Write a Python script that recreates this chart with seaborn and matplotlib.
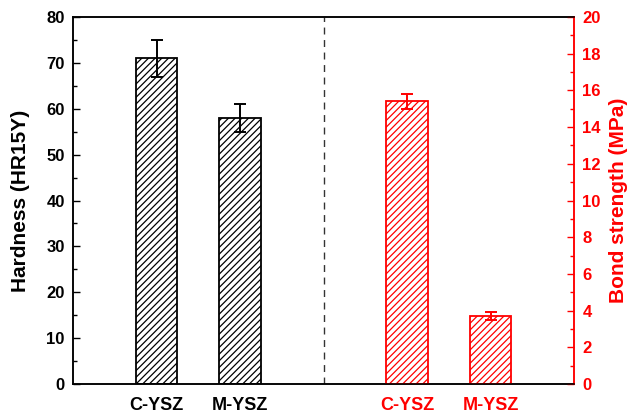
import matplotlib
matplotlib.use("Agg")
import matplotlib.pyplot as plt
import seaborn as sns
import pandas as pd
from matplotlib.ticker import MultipleLocator

sns.set_theme(style="ticks")
plt.rcParams['font.family'] = ['Liberation Sans', 'DejaVu Sans']
plt.rcParams['font.weight'] = 'bold'
plt.rcParams['hatch.linewidth'] = 0.9

categories = ["C-YSZ", "M-YSZ"]
hardness = [71, 58]
hardness_err = [4, 3]
bond = [15.4, 3.7]
bond_err = [0.4, 0.2]
pos_hard = [1, 2]
pos_bond = [4, 5]

df_h = pd.DataFrame({"pos": pos_hard, "val": hardness, "cat": categories})
df_b = pd.DataFrame({"pos": pos_bond, "val": bond, "cat": categories})

fig = plt.figure(figsize=(6.31, 4.18), dpi=100)
ax = fig.add_axes([0.1157, 0.0813, 0.794, 0.878])
ax2 = ax.twinx()

sns.barplot(data=df_h, x="pos", y="val", native_scale=True, width=0.5,
            color="white", edgecolor="black", linewidth=1.3, ax=ax, errorbar=None)
for p in ax.patches:
    p.set_hatch("/////")
    p.set_edgecolor("black")
    p.set_facecolor("white")
ax.errorbar(pos_hard, hardness, yerr=hardness_err, fmt="none", ecolor="black",
            elinewidth=1.4, capsize=4.5, capthick=1.4, zorder=5)

sns.barplot(data=df_b, x="pos", y="val", native_scale=True, width=0.5,
            color="white", edgecolor="red", linewidth=1.3, ax=ax2, errorbar=None)
for p in ax2.patches:
    p.set_hatch("/////")
    p.set_edgecolor("red")
    p.set_facecolor("white")
ax2.errorbar(pos_bond, bond, yerr=bond_err, fmt="none", ecolor="red",
             elinewidth=1.4, capsize=4.5, capthick=1.4, zorder=5)

ax.axvline(3, color="#333333", linestyle=(0, (5, 4)), linewidth=1.0)

ax.set_xlim(0, 6)
ax.set_ylim(0, 80)
ax2.set_ylim(0, 20)
ax.set_xticks(pos_hard + pos_bond)
ax.set_xticklabels(categories + categories, fontsize=13, fontweight="bold")
for i, t in enumerate(ax.get_xticklabels()):
    t.set_color("black" if i < 2 else "red")
ax.tick_params(axis="x", length=0, pad=9)

ax.yaxis.set_major_locator(MultipleLocator(10))
ax.yaxis.set_minor_locator(MultipleLocator(5))
ax.tick_params(axis="y", which="both", direction="in", labelsize=12, colors="black", width=1.0, pad=6)
ax.tick_params(axis="y", which="major", length=5)
ax.tick_params(axis="y", which="minor", length=3)

ax2.yaxis.set_major_locator(MultipleLocator(2))
ax2.yaxis.set_minor_locator(MultipleLocator(1))
ax2.tick_params(axis="y", which="both", direction="in", labelsize=12, colors="red", width=1.0, pad=6)
ax2.tick_params(axis="y", which="major", length=5)
ax2.tick_params(axis="y", which="minor", length=3)
for t in ax.get_yticklabels() + ax2.get_yticklabels():
    t.set_fontweight("bold")

ax.set_xlabel("")
ax.set_ylabel("Hardness (HR15Y)", fontsize=15, fontweight="bold", color="black", labelpad=12)
ax2.set_ylabel("Bond strength (MPa)", fontsize=15, fontweight="bold", color="red", labelpad=6)
ax2.set_xlabel("")

for a in (ax, ax2):
    for s in a.spines.values():
        s.set_linewidth(1.1)
        s.set_color("black")
ax2.spines["right"].set_color("red")
ax.spines["right"].set_color("red")

fig.savefig("out.png", dpi=100)
